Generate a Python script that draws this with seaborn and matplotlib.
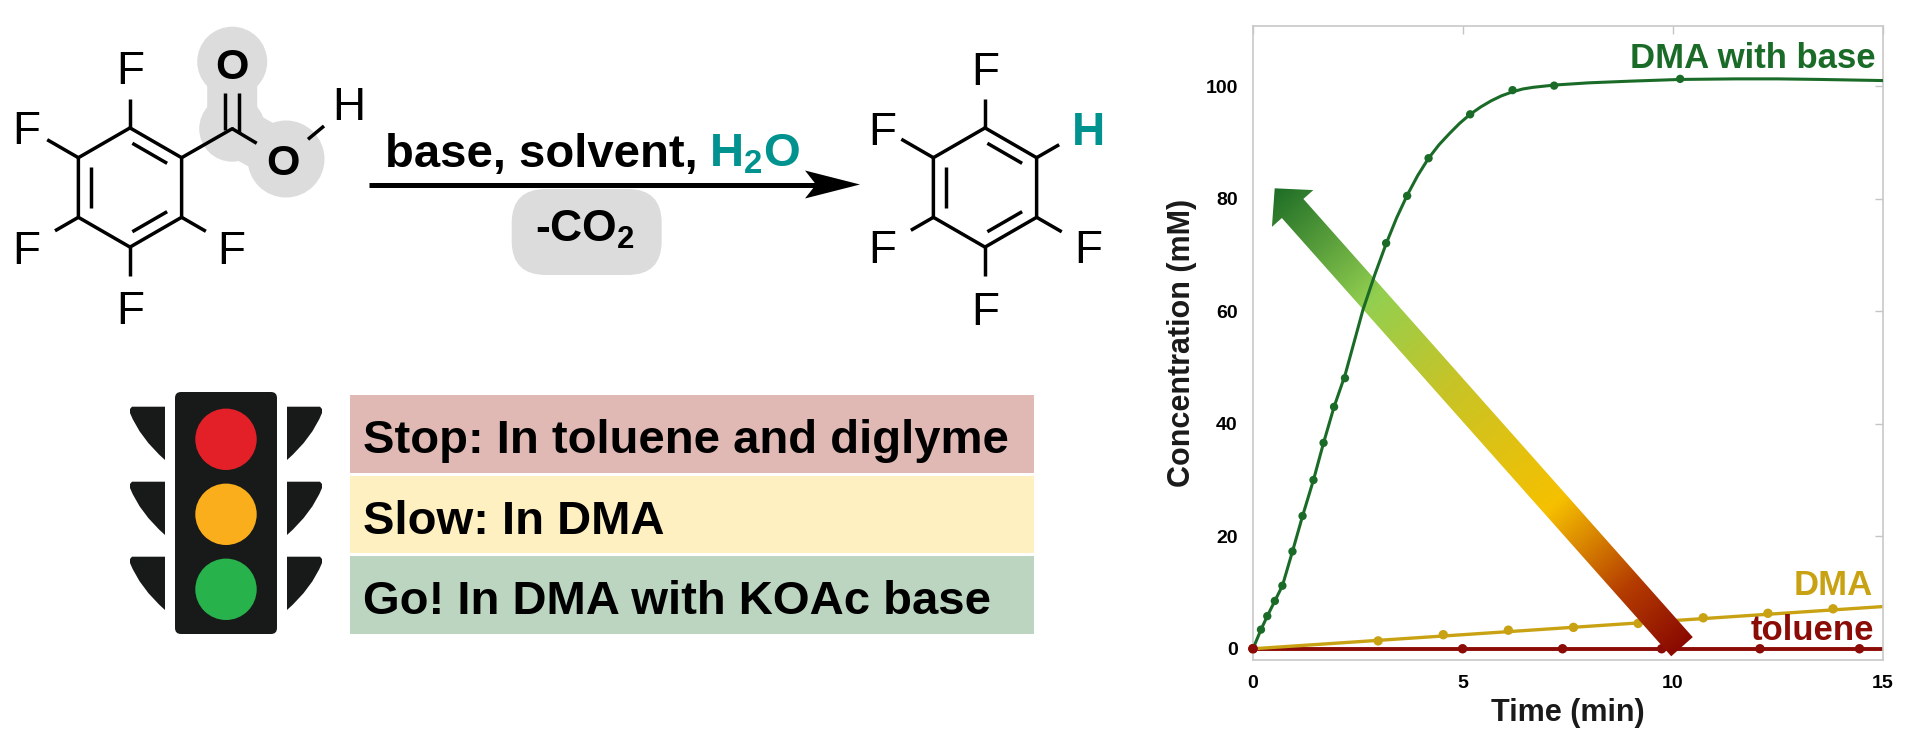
import numpy as np
import matplotlib
matplotlib.use('Agg')
import matplotlib.pyplot as plt
import matplotlib.patches as mpatches
import matplotlib.transforms as mtransforms
from matplotlib.path import Path
from matplotlib.colors import LinearSegmentedColormap
import seaborn as sns

base_t = [0, 0.19, 0.34, 0.52, 0.70, 0.94, 1.18, 1.44, 1.68, 1.93, 2.19,
          3.17, 3.67, 4.18, 5.17, 6.18, 7.17, 10.17]
base_c = [0, 3.4, 5.8, 8.5, 11.2, 17.3, 23.6, 30.0, 36.6, 43.0, 48.1,
          72.1, 80.5, 87.2, 95.0, 99.3, 100.1, 101.3]
base_fit_t = [0, 0.19, 0.34, 0.52, 0.70, 0.94, 1.18, 1.44, 1.68, 1.93, 2.19,
              2.62, 2.90, 3.17, 3.42, 3.67, 3.92, 4.18, 4.43, 4.68, 4.92, 5.17,
              5.42, 5.67, 5.92, 6.18, 6.42, 6.67, 6.92, 7.17, 8.0, 9.0, 10.17,
              11.5, 12.5, 13.5, 15]
base_fit_c = [0, 3.4, 5.8, 8.5, 11.2, 17.3, 23.6, 30.0, 36.6, 43.0, 48.6,
              60.3, 66.5, 72.0, 76.6, 80.6, 84.1, 87.2, 89.6, 91.6, 93.4, 95.0,
              96.3, 97.4, 98.3, 99.0, 99.5, 99.8, 100.0, 100.2, 100.6, 100.9, 101.2,
              101.3, 101.3, 101.2, 101.0]

# DMA without base
dma_t = [0, 2.98, 4.53, 6.08, 7.63, 9.17, 10.72, 12.26, 13.81]
dma_c = [0, 1.4, 2.5, 3.3, 3.8, 4.5, 5.5, 6.3, 7.1]
dma_fit_t = [0, 15]
dma_fit_c = [0, 7.5]

# toluene
tol_t = [0, 4.99, 7.37, 9.73, 12.07, 14.44]
tol_c = [0, 0, 0, 0, 0, 0]
tol_fit_t = [0, 15]
tol_fit_c = [0, 0]

x_ticks = [0, 5, 10, 15]
y_ticks = [0, 20, 40, 60, 80, 100]

conditions = ['Stop: In toluene and diglyme', 'Slow: In DMA', 'Go! In DMA with KOAc base']
cond_colors = ['#e0b8b4', '#fef0c1', '#bcd5c1']

GREEN = '#1b6b28'
GOLD = '#c9a214'
RED = '#8b0b06'
TEAL = '#00928f'

sns.set_style('white')
plt.rcParams['font.family'] = ['Liberation Sans', 'DejaVu Sans']
plt.rcParams['text.color'] = 'black'
plt.rcParams['axes.labelcolor'] = 'black'
plt.rcParams['mathtext.fontset'] = 'custom'
plt.rcParams['mathtext.rm'] = 'Liberation Sans'
plt.rcParams['mathtext.bf'] = 'Liberation Sans:bold'

W, H = 1920, 754
fig = plt.figure(figsize=(W / 100, H / 100), dpi=100)
fig.patch.set_facecolor('white')

# ---------------- left part: reaction scheme (pixel coordinates) ----------------
bg = fig.add_axes([0, 0, 1, 1])
bg.set_xlim(0, W)
bg.set_ylim(H, 0)
bg.axis('off')

LW = 2.5


def ring(cx, cy, r=59.6):
    ang = np.deg2rad([90, 30, -30, -90, -150, 150])
    v = np.array([(cx + r * np.cos(a), cy - r * np.sin(a)) for a in ang])
    closed = np.vstack([v, v[:1]])
    bg.plot(closed[:, 0], closed[:, 1], color='black', lw=LW, solid_joinstyle='miter', zorder=3)
    c = np.array([cx, cy])
    for i, j in [(0, 1), (5, 4), (3, 2)]:
        a = c + 0.765 * (v[i] - c)
        b = c + 0.765 * (v[j] - c)
        d = b - a
        a, b = a + 0.06 * d, b - 0.06 * d
        bg.plot([a[0], b[0]], [a[1], b[1]], color='black', lw=LW, solid_capstyle='butt', zorder=3)
    return v


def sub_bond(v, c, length):
    d = (v - c) / np.linalg.norm(v - c)
    e = v + d * length
    bg.plot([v[0], e[0]], [v[1], e[1]], color='black', lw=LW, solid_capstyle='butt', zorder=3)


def label(x, yc, s, size=33, weight='normal', color='black'):
    cap = size * 100 / 72 * 0.716
    bg.text(x, yc + cap / 2, s, ha='center', va='baseline', fontsize=size,
            fontweight=weight, color=color, zorder=4)


# pentafluorobenzoic acid
c1 = np.array([130, 187.5])
v1 = ring(*c1)
for k, L in [(0, 29), (5, 36), (4, 27), (3, 29), (2, 28)]:
    sub_bond(v1[k], c1, L)
for x, y in [(130, 68), (26.7, 128), (26.7, 248), (130, 308), (231.7, 248)]:
    label(x, y, 'F')

# carboxylic acid with grey highlight
C = v1[1] + np.array([50.6, -29.0])
Otop = np.array([C[0], 61.7])
Olow = np.array([286.0, 159.0])
grey = '#dcdcdc'
for cen, rad in [(Otop, 35), (C, 33), (Olow, 38.5)]:
    bg.add_patch(mpatches.Circle(cen, rad, color=grey, lw=0, zorder=1))
bg.plot([Otop[0], C[0], Olow[0]], [Otop[1], C[1], Olow[1]], color=grey, lw=36,
        solid_capstyle='butt', solid_joinstyle='round', zorder=1)
bg.plot([v1[1][0], C[0]], [v1[1][1], C[1]], color='black', lw=LW, zorder=3)
for dx in (-7, 7):
    bg.plot([C[0] + dx, C[0] + dx], [C[1] + (1 if dx < 0 else 4), 92.7], color='black', lw=LW,
            solid_capstyle='butt', zorder=3)
bg.plot([C[0], 256.7], [C[1], 143.3], color='black', lw=LW, solid_capstyle='butt', zorder=3)
bg.plot([308, 324], [139.3, 126], color='black', lw=LW, solid_capstyle='butt', zorder=3)
label(232.3, 63.3, 'O', size=31, weight='bold')
label(283.3, 160, 'O', size=31, weight='bold')
label(349, 103.3, 'H')

# reaction arrow
bg.plot([369, 818], [184.5, 184.5], color='black', lw=3.6, solid_capstyle='butt', zorder=3)
bg.add_patch(mpatches.Polygon([(860, 184.5), (805, 170.5), (816, 184.5), (805, 198.5)],
                              closed=True, color='black', lw=0, zorder=3))
bg.text(385, 166.7, 'base, solvent, ', ha='left', va='baseline', fontsize=34,
        fontweight='bold', color='black', zorder=4)
bg.text(709, 166.7, r'H$_\mathbf{2}$O', ha='left', va='baseline', fontsize=34,
        fontweight='bold', color=TEAL, zorder=4)
bg.add_patch(mpatches.FancyBboxPatch((511.7, 189), 150, 86,
                                     boxstyle='round,pad=0,rounding_size=34',
                                     facecolor=grey, edgecolor='none', zorder=1))
bg.text(585, 241.5, r'-CO$_\mathbf{2}$', ha='center', va='baseline', fontsize=32,
        fontweight='bold', color='black', zorder=4)

# pentafluorobenzene
c2 = np.array([985, 187.5])
v2 = ring(*c2)
for k, L in [(0, 29), (5, 37), (1, 26), (4, 26), (2, 29), (3, 29)]:
    sub_bond(v2[k], c2, L)
for x, y in [(985.7, 68.3), (882.7, 128.3), (882.7, 246.7), (1088.3, 246.7), (985.7, 308.3)]:
    label(x, y, 'F')
label(1088.3, 128.3, 'H', weight='bold', color=TEAL)

# traffic light
bg.add_patch(mpatches.FancyBboxPatch((175, 392), 102, 242,
                                     boxstyle='round,pad=0,rounding_size=6',
                                     facecolor='#181a19', edgecolor='none', zorder=2))
light_colors = ['#e32028', '#fbae1c', '#27b24b']
for k, col in enumerate(light_colors):
    yc = 439.3 + 75 * k
    bg.add_patch(mpatches.Circle((226, yc), 30.7, color=col, lw=0, zorder=3))
    dy = 75 * k
    for sgn in (1, -1):
        def fx(x):
            return x if sgn == 1 else 452 - x
        verts = [(fx(130), 409 + dy), (fx(132), 406.7 + dy), (fx(165), 406.7 + dy),
                 (fx(165), 460 + dy), (fx(140), 438 + dy), (fx(130), 413 + dy),
                 (fx(130), 409 + dy)]
        codes = [Path.MOVETO, Path.LINETO, Path.LINETO, Path.LINETO,
                 Path.CURVE3, Path.CURVE3, Path.CLOSEPOLY]
        bg.add_patch(mpatches.PathPatch(Path(verts, codes), facecolor='#181a19',
                                        edgecolor='none', zorder=2))

# condition boxes
box_top = [395, 475.7, 555.7]
box_h = [78.3, 77.6, 78.3]
for txt, col, top, h in zip(conditions, cond_colors, box_top, box_h):
    bg.add_patch(mpatches.Rectangle((350, top), 684, h, facecolor=col, edgecolor='none', zorder=1))
    bg.text(363, top + h / 2 + 19, txt, ha='left', va='baseline', fontsize=34,
            fontweight='bold', color='black', zorder=4)

# ---------------- right part: kinetics chart ----------------
ax = fig.add_axes([1253 / W, 94 / H, 630 / W, 634 / H])
ax.set_facecolor('white')

sns.lineplot(x=tol_fit_t, y=tol_fit_c, ax=ax, color=RED, linewidth=2.8, zorder=2)
sns.lineplot(x=dma_fit_t, y=dma_fit_c, ax=ax, color=GOLD, linewidth=2.4, zorder=2)
sns.scatterplot(x=dma_t, y=dma_c, ax=ax, color=GOLD, s=46, edgecolor='none', linewidth=0,
                zorder=2.2, clip_on=False)
sns.scatterplot(x=tol_t, y=tol_c, ax=ax, color=RED, s=46, edgecolor='none', linewidth=0,
                zorder=2.3, clip_on=False)
sns.lineplot(x=base_fit_t, y=base_fit_c, ax=ax, color=GREEN, linewidth=2.2, zorder=3)
sns.scatterplot(x=base_t, y=base_c, ax=ax, color=GREEN, s=36, edgecolor='none', linewidth=0,
                zorder=3.1, clip_on=False)
sns.scatterplot(x=tol_t[:1], y=tol_c[:1], ax=ax, color=RED, s=46, edgecolor='none',
                linewidth=0, zorder=3.2, clip_on=False)

# gradient arrow (pixel coordinates of the figure)
pix = mtransforms.Affine2D().scale(1 / W, -1 / H).translate(0, 1) + fig.transFigure
tail = np.array([1682.0, 646.7])
tip = np.array([1274.7, 188.3])
length = np.linalg.norm(tip - tail)
u = (tip - tail) / length
n = np.array([-u[1], u[0]])
hb = tip - 27 * u
poly = np.array([tail + 14.4 * n, hb + 14.4 * n, hb + 27.7 * n, tip,
                 hb - 27.7 * n, hb - 14.4 * n, tail - 14.4 * n])
arrow_patch = mpatches.Polygon(poly, closed=True, transform=pix, facecolor='none',
                               edgecolor='none')
ax.add_patch(arrow_patch)
x0, x1 = poly[:, 0].min() - 2, poly[:, 0].max() + 2
y0, y1 = poly[:, 1].min() - 2, poly[:, 1].max() + 2
gx, gy = np.meshgrid(np.linspace(x0, x1, 500), np.linspace(y0, y1, 500))
tt = np.clip(((gx - tail[0]) * u[0] + (gy - tail[1]) * u[1]) / length, 0, 1)
cmap = LinearSegmentedColormap.from_list('arrow', [(0, '#8b0a00'), (0.13, '#b53d00'),
                                                   (0.31, '#f6c000'), (0.57, '#c7c427'),
                                                   (0.76, '#93cf50'), (1, '#1f6e27')])
im = ax.imshow(tt, cmap=cmap, vmin=0, vmax=1, extent=(x0, x1, y1, y0), origin='upper',
               transform=pix, zorder=2.5, interpolation='bilinear')
im.set_clip_path(arrow_patch)

ax.set_aspect('auto')
ax.set_xlim(0, 15)
ax.set_ylim(-2, 110.7)
ax.set_xticks(x_ticks)
ax.set_yticks(y_ticks)
ax.tick_params(direction='in', length=6, width=1.0, color='#c4c4c4', top=True, right=True,
               labelsize=14, pad=11, labelcolor='black')
for lbl in ax.get_xticklabels() + ax.get_yticklabels():
    lbl.set_fontweight('bold')
for sp in ax.spines.values():
    sp.set_color('#c8c8c8')
    sp.set_linewidth(1.2)
ax.set_xlabel('Time (min)', fontsize=22, fontweight='bold', labelpad=4, color='#1a1a1a')
ax.set_ylabel('Concentration (mM)', fontsize=22, fontweight='bold', labelpad=6, color='#1a1a1a')

ax.text(14.83, 103.2, 'DMA with base', ha='right', va='baseline', fontsize=25,
        fontweight='bold', color=GREEN, zorder=5)
ax.text(14.76, 9.5, 'DMA', ha='right', va='baseline', fontsize=25,
        fontweight='bold', color=GOLD, zorder=5)
ax.text(14.8, 1.6, 'toluene', ha='right', va='baseline', fontsize=25,
        fontweight='bold', color=RED, zorder=5)

fig.savefig('out.png', dpi=100)
